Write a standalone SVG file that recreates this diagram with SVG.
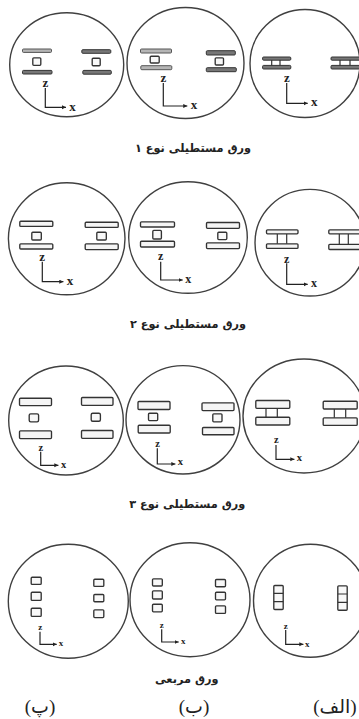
<svg xmlns="http://www.w3.org/2000/svg" width="359" height="719" viewBox="0 0 359 719">
<style>
.c{fill:none;stroke:#404040;stroke-width:1.4}
.b{fill:#f5f5f5;stroke:#333;stroke-width:1.35}
.t{fill:#b5b5b5;stroke:#555;stroke-width:1}
.d{fill:#777;stroke:#333;stroke-width:1}
.w{fill:#f8f8f8;stroke:#333;stroke-width:1.35}
.p{fill:none;stroke:#333;stroke-width:1.2}
.a{fill:none;stroke:#222;stroke-width:1.2;marker-end:url(#h)}
.l{font-family:"Liberation Serif",serif;font-weight:bold;fill:#222}
.cap{font-family:"DejaVu Sans",sans-serif;font-weight:bold;font-size:11.3px;fill:#222;text-anchor:middle;direction:rtl}
.lab{font-family:"Liberation Serif","DejaVu Sans",serif;font-size:19px;fill:#222;text-anchor:middle;direction:rtl}
</style>
<defs><marker id="h" markerWidth="5" markerHeight="5" refX="3.4" refY="1.7" orient="auto"><path d="M0 0L3.4 1.7L0 3.4Z" fill="#222"/></marker></defs>
<rect width="359" height="719" fill="#fff"/>

<g id="r1a">
<ellipse class="c" cx="66.7" cy="64.7" rx="57" ry="52"/>
<rect class="t" x="22.5" y="49" width="29" height="3.4" rx="1"/><rect class="w" x="32.8" y="57.8" width="8" height="7.5" rx="1"/><rect class="d" x="22.5" y="70.4" width="29.5" height="3.6" rx="1"/>
<rect class="d" x="81.8" y="49.7" width="29" height="3.6" rx="1"/><rect class="w" x="92.2" y="58.2" width="8" height="7.5" rx="1"/><rect class="d" x="82.8" y="70.4" width="28.5" height="3.8" rx="1"/>
<path class="a" d="M45.3 88V107.3H66"/><text class="l" x="42.5" y="87" font-size="13">z</text><text class="l" x="69.3" y="110.7" font-size="13">x</text>
</g>
<g id="r1b">
<ellipse class="c" cx="185.5" cy="63" rx="58.5" ry="55.5"/>
<rect class="t" x="140.5" y="49" width="31" height="4" rx="1"/><rect class="w" x="150.2" y="56.2" width="9" height="6.8" rx="1"/><rect class="t" x="140.8" y="65.7" width="31" height="4" rx="1"/>
<rect class="d" x="206.3" y="50.7" width="29" height="4.3" rx="1"/><rect class="w" x="215.2" y="57.8" width="8.3" height="7.2" rx="1"/><rect class="d" x="206.3" y="67.7" width="30" height="4" rx="1"/>
<path class="a" d="M163.3 83V106H187.3"/><text class="l" x="160.5" y="81.5" font-size="13">z</text><text class="l" x="190.7" y="108.7" font-size="13">x</text>
</g>
<g id="r1c">
<ellipse class="c" cx="305" cy="63.5" rx="55" ry="54"/>
<rect class="d" x="262.6" y="57" width="28.2" height="3.2" rx="1"/><rect class="d" x="262.6" y="65.4" width="28.2" height="3.6" rx="1"/><path class="p" d="M271.7 60V65.5M280 60V65.5"/>
<rect class="d" x="331" y="57" width="29" height="3.2" rx="1"/><rect class="d" x="331" y="65.4" width="29" height="3.6" rx="1"/><path class="p" d="M340 60V65.5M350 60V65.5"/>
<path class="a" d="M286.7 83V103.3H307.7"/><text class="l" x="284" y="81.5" font-size="13">z</text><text class="l" x="311" y="106" font-size="13">x</text>
</g>
<text id="cap1" class="cap" x="193" y="152">ورق مستطیلی نوع ۱</text>

<g id="r2a">
<ellipse class="c" cx="66.7" cy="238.8" rx="58.3" ry="56"/>
<rect class="b" x="19.8" y="221.2" width="33" height="5.2" rx="1"/><rect class="w" x="31.8" y="232.2" width="9.5" height="7.8" rx="1"/><rect class="b" x="19.8" y="243.8" width="33" height="5.2" rx="1"/>
<rect class="b" x="85.2" y="222.2" width="33" height="5.2" rx="1"/><rect class="w" x="96.8" y="232.2" width="9.5" height="7.8" rx="1"/><rect class="b" x="85.2" y="243.8" width="33" height="5.8" rx="1"/>
<path class="a" d="M42.3 261.7V281.7H63.4"/><text class="l" x="39.3" y="260.7" font-size="13">z</text><text class="l" x="66.7" y="285" font-size="13">x</text>
</g>
<g id="r2b">
<ellipse class="c" cx="188" cy="237.5" rx="59.3" ry="55.8"/>
<rect class="b" x="140.5" y="221.8" width="34" height="5.2" rx="1"/><rect class="w" x="152.8" y="230.4" width="8.6" height="8.6" rx="1"/><rect class="b" x="140.5" y="241.2" width="34" height="5.8" rx="1"/>
<rect class="b" x="206.5" y="222.5" width="33" height="5.8" rx="1"/><rect class="w" x="217.8" y="232.2" width="9" height="7.4" rx="1"/><rect class="b" x="206.5" y="242.8" width="33" height="5.8" rx="1"/>
<path class="a" d="M160.7 261.7V280H182.7"/><text class="l" x="158" y="260" font-size="12">z</text><text class="l" x="185.3" y="283.3" font-size="12">x</text>
</g>
<g id="r2c">
<ellipse class="c" cx="310" cy="242.7" rx="55" ry="53.3"/>
<rect class="b" x="266.5" y="229.8" width="31.5" height="4" rx="1"/><rect class="b" x="266.5" y="243.8" width="31.5" height="4.6" rx="1"/><path class="p" d="M277.3 234V243.8M286.7 234V243.8"/>
<rect class="b" x="328.8" y="229.8" width="31" height="4" rx="1"/><rect class="b" x="328.8" y="244.3" width="31" height="5.2" rx="1"/><path class="p" d="M339.3 234V244M348.3 234V244"/>
<path class="a" d="M286.7 263.3V284.3H307.7"/><text class="l" x="284" y="262.7" font-size="12">z</text><text class="l" x="311" y="287.3" font-size="12">x</text>
</g>
<text id="cap2" class="cap" x="188" y="328">ورق مستطیلی نوع ۲</text>

<g id="r3a">
<ellipse class="c" cx="66" cy="420.5" rx="57.3" ry="54.5"/>
<rect class="b" x="19.5" y="398.2" width="32" height="7.4" rx="1"/><rect class="w" x="29.2" y="413.8" width="9.4" height="8" rx="1.5"/><rect class="b" x="19.5" y="430.8" width="32" height="7.8" rx="1"/>
<rect class="b" x="81.5" y="397.5" width="31.5" height="7.8" rx="1"/><rect class="w" x="91.2" y="413.2" width="9.2" height="8" rx="1.5"/><rect class="b" x="81.5" y="430.5" width="31.5" height="7.8" rx="1"/>
<path class="a" d="M40.7 451.7V465.3H58.4"/><text class="l" x="38.6" y="450.7" font-size="10.5">z</text><text class="l" x="61" y="467.7" font-size="10.5">x</text>
</g>
<g id="r3b">
<ellipse class="c" cx="183" cy="419.8" rx="57" ry="54.2"/>
<rect class="b" x="138" y="401.5" width="32" height="8" rx="1"/><rect class="w" x="148.5" y="413.2" width="9.2" height="7.4" rx="1"/><rect class="b" x="138.2" y="425.2" width="32" height="7.8" rx="1"/>
<rect class="b" x="202" y="402.8" width="32" height="7.8" rx="1"/><rect class="w" x="212.8" y="413.8" width="9.2" height="8" rx="1"/><rect class="b" x="202.5" y="427.5" width="31.5" height="7.2" rx="1"/>
<path class="a" d="M157.3 448.3V464H175.4"/><text class="l" x="155.3" y="447.3" font-size="10.5">z</text><text class="l" x="177.7" y="465.3" font-size="10.5">x</text>
</g>
<g id="r3c">
<ellipse class="c" cx="304" cy="416" rx="61" ry="57"/>
<rect class="b" x="255.8" y="400.5" width="34" height="7.8" rx="1"/><rect class="b" x="255.8" y="417.2" width="34" height="7.8" rx="1"/><path class="p" d="M266 408.4V417.2M277.3 408.4V417.2"/>
<rect class="b" x="323.2" y="401.2" width="34" height="7.8" rx="1"/><rect class="b" x="323.2" y="417.8" width="34" height="7.6" rx="1"/><path class="p" d="M334.3 409V417.8M345.7 409V417.8"/>
<path class="a" d="M276 445V459.3H294.4"/><text class="l" x="274" y="443.3" font-size="10.5">z</text><text class="l" x="296.7" y="461" font-size="10.5">x</text>
</g>
<text id="cap3" class="cap" x="187.3" y="508">ورق مستطیلی نوع ۳</text>

<g id="r4a">
<ellipse class="c" cx="68.3" cy="601.3" rx="60" ry="57"/>
<rect class="w" x="31.2" y="577.2" width="10" height="7.2" rx="1"/><rect class="w" x="31.2" y="592.2" width="10" height="8.2" rx="1"/><rect class="w" x="31.2" y="608.2" width="10" height="8.2" rx="1"/>
<rect class="w" x="93.8" y="579.2" width="10" height="7.2" rx="1"/><rect class="w" x="93.8" y="594.5" width="10" height="7.2" rx="1"/><rect class="w" x="93.8" y="609.8" width="10" height="7.8" rx="1"/>
<path class="a" d="M40 631.7V644.3H56.7"/><text class="l" x="38.2" y="630" font-size="9">z</text><text class="l" x="58.7" y="646" font-size="9">x</text>
</g>
<g id="r4b">
<ellipse class="c" cx="190" cy="599.7" rx="60" ry="57"/>
<rect class="w" x="152.5" y="578.8" width="9.8" height="7.2" rx="1"/><rect class="w" x="152.5" y="590.8" width="9.8" height="8.2" rx="1"/><rect class="w" x="152.5" y="604.2" width="9.8" height="7.6" rx="1"/>
<rect class="w" x="215.5" y="579.5" width="10" height="7.2" rx="1"/><rect class="w" x="215.5" y="592.2" width="10" height="7.6" rx="1"/><rect class="w" x="215.5" y="605.8" width="10" height="7.6" rx="1"/>
<path class="a" d="M161.7 629.3V642H178.7"/><text class="l" x="159.8" y="628.3" font-size="9">z</text><text class="l" x="181" y="644.3" font-size="9">x</text>
</g>
<g id="r4c">
<ellipse class="c" cx="310.5" cy="600.8" rx="57" ry="56.5"/>
<rect class="w" x="273.8" y="585.5" width="9.4" height="24" rx="1"/><path class="p" d="M273.8 593.3H283.2M273.8 601.7H283.2"/>
<rect class="w" x="337.8" y="585.8" width="9.4" height="24.4" rx="1"/><path class="p" d="M337.8 594H347.2M337.8 602.3H347.2"/>
<path class="a" d="M285.7 630V644.3H303.4"/><text class="l" x="283.8" y="629.3" font-size="9">z</text><text class="l" x="305" y="646.7" font-size="9">x</text>
</g>
<text id="cap4" class="cap" x="186.7" y="683">ورق مربعی</text>

<text class="lab" x="40" y="713">(پ)</text>
<text class="lab" x="194" y="713">(ب)</text>
<text class="lab" x="335" y="713">(الف)</text>
</svg>
